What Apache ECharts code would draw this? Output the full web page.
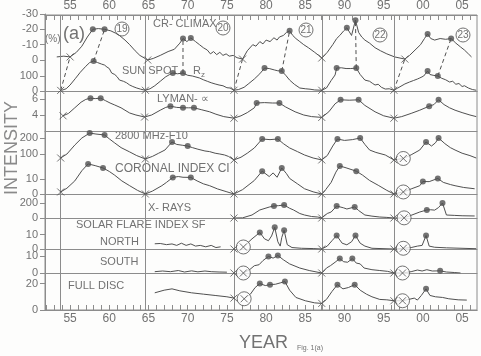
<!DOCTYPE html>
<html>
<head>
<meta charset="utf-8">
<script src="https://cdn.jsdelivr.net/npm/echarts@6/dist/echarts.min.js"></script>
<style>html,body{margin:0;padding:0;background:#fdfdfc}#main{width:481px;height:356px}</style>
</head>
<body>
<div id="main"></div>
<script>
// years as full numbers, axis labels show the last two digits
var yearTicks = [];
for (var y = 1952; y <= 2006; y++) yearTicks.push(y);
var yearLabels = [1955, 1960, 1965, 1970, 1975, 1980, 1985, 1990, 1995, 2000, 2005];
var cycleMin = [1953.8, 1964.6, 1975.9, 1987.1, 1996.3];

var crClimax = [[1953.3,-2],[1954.2,-2.5],[1955.0,-2],[1955.8,-5],[1956.5,-9],[1957.2,-15],[1957.9,-20],[1958.6,-20.5],[1959.4,-20],[1960.2,-19],[1960.8,-17.5],[1961.3,-16],[1962.0,-13],[1962.6,-10],[1963.3,-6],[1963.9,-3],[1964.9,0],[1965.6,-1],[1966.5,-3],[1967.5,-5.5],[1968.3,-7],[1969.0,-11],[1969.4,-14],[1969.9,-12],[1970.4,-14.4],[1971.0,-12],[1971.5,-10],[1972.0,-8],[1972.5,-6.5],[1972.9,-4],[1973.3,-5.5],[1973.7,-3.5],[1974.1,-5],[1974.5,-3],[1974.9,-4],[1975.3,-2.5],[1975.8,-3],[1976.3,-1.5],[1977.0,-0.6],[1977.6,-6],[1978.3,-10],[1978.7,-9],[1979.2,-12],[1979.6,-10.5],[1980.0,-13],[1980.5,-12],[1981.0,-14.5],[1981.4,-13],[1981.7,-15],[1982.2,-16],[1982.6,-18],[1983.0,-19],[1983.4,-16],[1983.8,-14],[1984.3,-12],[1984.8,-10],[1985.4,-8],[1986.2,-5],[1986.7,-3],[1987.1,-1.3],[1987.8,-5],[1988.5,-10],[1989.0,-14],[1989.4,-16],[1989.9,-19],[1990.3,-21],[1990.9,-16],[1991.4,-26],[1991.8,-18],[1992.2,-15],[1992.6,-13],[1993.2,-11],[1993.9,-8],[1994.6,-6],[1995.4,-4],[1996.4,-2],[1997.7,-0.6],[1998.3,-3],[1999.0,-6.5],[1999.7,-10],[2000.2,-14],[2000.6,-17],[2001.0,-14],[2001.5,-13],[2002.2,-14],[2002.9,-13.5],[2003.6,-14],[2004.2,-11],[2004.8,-8.5],[2005.3,-6.5],[2005.8,-4],[2006.2,-2]];
var crDots = [[1957.9,-20],[1959.4,-20],[1969.4,-14],[1970.4,-14.4],[1983.0,-19],[1990.3,-21],[1991.4,-26],[2000.6,-17],[2003.6,-14]];
var crMins = [[1955.0,-2],[1964.9,0],[1977.0,-0.6],[1987.1,-1.3],[1997.7,-0.6]];

var sunspot = [[1953.9,4],[1954.5,15],[1955.0,40],[1955.7,85],[1956.3,125],[1957.0,165],[1957.5,190],[1958.0,200],[1958.5,190],[1959.0,180],[1959.4,173],[1959.7,160],[1960.0,150],[1960.3,120],[1960.7,110],[1961.0,95],[1961.3,73],[1961.8,65],[1962.2,55],[1962.6,40],[1963.0,30],[1963.5,20],[1964.0,12],[1964.6,5],[1965.2,15],[1965.8,35],[1966.5,65],[1967.2,95],[1967.7,110],[1968.1,120],[1968.7,115],[1969.4,120],[1970.0,105],[1970.6,100],[1971.5,87],[1972.0,75],[1972.5,65],[1973.0,55],[1973.5,47],[1974.0,40],[1974.5,35],[1975.0,22],[1975.4,20],[1975.9,5],[1976.5,10],[1977.2,25],[1977.8,50],[1978.5,80],[1979.2,115],[1979.8,153],[1980.4,150],[1981.1,140],[1981.5,135],[1982.0,133],[1982.5,105],[1983.0,73],[1983.6,45],[1984.3,20],[1985.0,15],[1985.6,12],[1986.2,7],[1987.1,5],[1987.7,20],[1988.3,70],[1988.8,107],[1989.0,153],[1989.6,155],[1990.2,150],[1990.8,150],[1991.5,153],[1992.0,110],[1992.6,73],[1993.2,65],[1993.6,50],[1993.9,40],[1994.3,45],[1994.7,25],[1995.2,13],[1995.7,15],[1996.3,5],[1996.8,20],[1997.7,47],[1998.3,60],[1998.8,70],[1999.3,80],[1999.6,87],[2000.1,100],[2000.6,133],[2000.9,110],[2001.3,105],[2001.9,100],[2002.4,85],[2002.9,75],[2003.4,60],[2003.8,65],[2004.2,45],[2004.6,50],[2005.0,30],[2005.3,35],[2005.8,20],[2006.3,10],[2006.8,5]];
var sunDots = [[1958.0,200],[1968.1,120],[1969.4,120],[1979.8,153],[1982.0,133],[1989.0,153],[1991.5,153],[2000.6,133],[2001.9,100]];
var sunMins = [[1953.8,4],[1964.6,5],[1975.9,5],[1987.1,5],[1996.3,5]];

var lyman = [[1954.1,3.9],[1954.8,4.2],[1955.6,4.9],[1956.4,5.6],[1957.0,5.95],[1957.6,6.1],[1958.2,6.05],[1958.9,6.1],[1959.5,5.8],[1960.1,5.5],[1960.7,5.25],[1961.5,4.9],[1962.0,4.6],[1962.6,4.25],[1963.4,4.0],[1964.5,3.75],[1965.4,4.0],[1966.5,4.6],[1967.2,4.95],[1967.8,5.1],[1968.6,4.95],[1969.4,4.9],[1970.1,4.9],[1970.8,4.9],[1971.8,4.65],[1972.8,4.4],[1973.6,4.1],[1974.6,3.8],[1975.9,3.6],[1976.8,3.9],[1977.6,4.3],[1978.5,4.9],[1978.8,5.5],[1979.8,5.55],[1980.8,5.5],[1981.7,5.5],[1982.5,5.0],[1983.7,4.4],[1984.8,4.0],[1985.8,3.8],[1987.1,3.7],[1988.0,4.4],[1988.8,5.4],[1989.5,5.9],[1990.6,5.85],[1991.8,5.9],[1992.6,5.2],[1993.9,4.4],[1995.0,3.9],[1996.3,3.6],[1997.3,3.8],[1998.5,4.2],[1999.6,4.6],[2000.8,5.1],[2001.4,5.3],[2002.0,5.9],[2002.7,5.3],[2003.4,4.9],[2004.1,4.6],[2005.0,4.3],[2006.0,4.0],[2006.8,3.8]];
var lymanDots = [[1957.6,6.1],[1958.9,6.1],[1967.8,5.1],[1969.4,4.9],[1970.8,4.9],[1978.8,5.5],[1981.7,5.5],[1989.5,5.9],[1991.8,5.9],[2000.8,5.1],[2002.0,5.9]];
var lymanMins = [[1954.1,3.9],[1964.5,3.75],[1975.9,3.6],[1987.1,3.7],[1996.3,3.6]];

var f10 = [[1953.8,75],[1954.6,100],[1955.6,156],[1956.5,200],[1957.5,231],[1958.3,225],[1959.4,219],[1960.0,195],[1960.7,169],[1961.5,140],[1962.6,113],[1963.5,90],[1964.6,69],[1965.5,85],[1966.3,105],[1967.1,125],[1968.0,175],[1968.6,160],[1969.3,155],[1970.0,150],[1970.6,140],[1971.3,130],[1972.2,119],[1972.8,115],[1973.5,105],[1974.1,100],[1974.7,94],[1975.2,85],[1975.9,63],[1976.8,80],[1977.6,105],[1978.5,138],[1979.5,194],[1980.5,190],[1981.5,194],[1982.2,165],[1983.0,138],[1984.0,115],[1984.9,94],[1986.0,75],[1987.1,63],[1987.8,90],[1988.5,150],[1989.1,194],[1990.0,185],[1991.0,190],[1992.0,200],[1992.6,160],[1993.2,125],[1994.0,110],[1995.2,94],[1996.3,63],[1997.5,72],[1998.5,95],[1999.6,125],[2000.4,175],[2001.1,150],[2001.6,170],[2002.0,200],[2002.8,165],[2003.5,140],[2004.1,125],[2005.0,105],[2006.0,90],[2006.8,75]];
var f10Dots = [[1957.5,231],[1959.4,219],[1968.0,175],[1970.0,150],[1979.5,194],[1981.5,194],[1989.1,194],[1992.0,200],[2000.4,175],[2002.0,200]];
var f10Mins = [[1953.8,75],[1964.6,69],[1975.9,63],[1987.1,63],[1996.3,63]];
var f10Circ = [[1997.5,72]];

var coronal = [[1953.8,1.4],[1954.6,4],[1955.6,9],[1956.5,16],[1957.3,20.7],[1958.2,19.5],[1959.2,17.9],[1960.0,15.5],[1960.7,12.9],[1961.6,9],[1962.6,5.7],[1963.6,2.5],[1964.6,0],[1965.5,2],[1966.7,5.7],[1967.3,8],[1968.1,11.4],[1968.8,12],[1969.4,11.5],[1970.4,11.4],[1971.2,9],[1972.0,7],[1972.8,5.7],[1973.8,3.5],[1975.0,1.5],[1975.9,0],[1977.0,3],[1978.5,9.3],[1979.5,15.7],[1980.4,12],[1980.9,14.5],[1981.4,11.5],[1982.0,17.9],[1982.6,14],[1983.0,10.7],[1984.0,7],[1984.9,3.6],[1986.0,1.5],[1987.1,0],[1987.6,3],[1988.3,8],[1988.9,15],[1989.4,19.3],[1990.2,18],[1991.5,15.7],[1992.3,13],[1993.2,9.3],[1994.3,6],[1995.4,2.5],[1996.3,0],[1997.5,1.4],[1998.5,3.5],[1999.6,5.7],[2000.0,8.6],[2000.8,8.5],[2001.9,10.7],[2002.6,8],[2003.5,6.5],[2004.1,5.7],[2005.2,4.5],[2006.6,3.6]];
var coronalDots = [[1957.3,20.7],[1959.2,17.9],[1968.1,11.4],[1970.4,11.4],[1979.5,15.7],[1982.0,17.9],[1989.4,19.3],[1991.5,15.7],[2000.0,8.6],[2001.9,10.7]];
var coronalMins = [[1953.8,1.4],[1964.6,0],[1975.9,0],[1987.1,0],[1996.3,0]];
var coronalCirc = [[1997.5,1.4]];

var xrays = [[1975.9,0],[1977.0,2],[1978.2,40],[1979.2,107],[1980.4,146],[1981.0,160],[1981.6,165],[1982.3,173],[1983.0,130],[1983.5,107],[1984.3,60],[1984.9,40],[1985.8,20],[1986.6,13],[1987.1,0],[1987.8,60],[1988.3,80],[1989.0,160],[1989.9,135],[1990.3,120],[1991.3,147],[1991.8,100],[1992.6,40],[1993.5,25],[1994.5,13],[1995.4,8],[1996.3,0],[1997.6,2],[1998.6,40],[1999.6,80],[2000.5,107],[2001.0,110],[2001.5,105],[2002.0,140],[2002.5,200],[2003.0,40],[2004.0,35],[2005.0,30],[2006.6,27]];
var xrayDots = [[1981.0,160],[1982.3,173],[1989.0,160],[1991.3,147],[2000.5,107],[2002.5,200]];
var xrayMins = [[1975.9,0],[1987.1,0],[1996.3,0]];
var xrayCirc = [[1997.6,2]];

var northEarly = [[1965.8,3.6],[1966.5,3.8],[1967.3,3],[1968.0,3.5],[1968.6,2.5],[1969.2,4],[1969.8,2.5],[1970.4,3.5],[1971.0,2],[1971.6,2.5],[1972.3,1.5],[1973.0,2.5],[1973.6,1],[1974.2,1.5]];
var north = [[1977.1,1.4],[1978.2,7],[1979.2,11.4],[1979.8,7],[1980.3,5.7],[1980.7,9],[1981.1,15],[1981.5,5],[1981.8,2],[1982.0,8],[1982.3,12.9],[1982.7,3],[1983.3,1],[1984.5,0.5],[1986.0,0.3],[1987.1,0],[1987.8,2],[1988.4,5.7],[1989.0,9.3],[1989.7,4],[1990.3,2.9],[1990.9,5],[1991.4,9.3],[1992.0,4],[1992.6,2],[1993.5,0.5],[1996.3,0],[1997.5,0.5],[1998.5,1],[1999.3,2],[1999.9,2.5],[2000.4,9.3],[2000.8,2],[2001.5,1.2],[2003.0,0.8],[2006.8,0.2]];
var northDots = [[1979.2,11.4],[1981.1,15],[1982.3,12.9],[1989.0,9.3],[1991.4,9.3],[2000.4,9.3]];
var northMins = [[1975.9,0],[1987.1,0],[1996.3,0]];
var northCirc = [[1977.1,1.4],[1997.5,0.5]];

var southEarly = [[1965.8,0.8],[1966.8,1.2],[1967.8,0.8],[1968.8,1.5],[1969.6,0.6],[1970.5,1.3],[1971.3,0.7],[1972.2,1.2],[1973.0,0.8],[1974.0,0.6],[1975.0,0.5]];
var south = [[1977.1,0],[1977.9,2],[1978.5,4.4],[1979.1,5],[1979.6,7.5],[1980.3,10],[1980.9,9],[1981.5,10.6],[1982.2,8],[1983.0,5.5],[1984.3,3],[1985.5,1.5],[1987.1,0],[1987.7,3],[1988.2,4.4],[1988.8,6.5],[1989.4,8.75],[1989.9,6.8],[1990.4,6.5],[1991.0,8.75],[1991.5,6],[1992.0,5.5],[1992.5,3],[1993.5,2],[1994.5,1.5],[1995.5,1],[1996.3,0],[1997.4,0],[1998.5,0.8],[1999.3,1.8],[1999.9,1.2],[2000.5,2],[2001.2,1.2],[2002.2,1.3],[2003.0,0.6],[2004.0,0.3],[2004.8,0]];
var southDots = [[1980.3,10],[1981.5,10.6],[1989.4,8.75],[1991.0,8.75],[2002.2,1.3]];
var southMins = [[1975.9,0],[1987.1,0],[1996.3,0]];
var southCirc = [[1977.1,0],[1997.4,0]];

var fullEarly = [[1965.8,13],[1967.0,15],[1968.0,16],[1969.0,14.5],[1970.5,13],[1972.0,12],[1973.5,11],[1975.0,10],[1975.9,9]];
var full = [[1977.2,8.5],[1978.0,12],[1978.6,17],[1979.2,20],[1979.9,18.5],[1980.5,19.2],[1981.2,19.5],[1981.8,20.5],[1982.4,21.5],[1983.0,15],[1983.8,9.5],[1985.0,7],[1986.2,5.4],[1987.1,5],[1987.7,8],[1988.4,14],[1989.1,19.2],[1989.8,16],[1990.5,17],[1991.3,19.2],[1992.0,15],[1992.8,12],[1993.5,10],[1994.5,8],[1995.4,7.7],[1996.3,7],[1997.4,7],[1998.2,8],[1998.9,9],[1999.3,7.5],[1999.8,11],[2000.4,16],[2000.9,11],[2001.6,10],[2002.5,9.5],[2003.3,8.5],[2004.5,7.7],[2005.6,7.5]];
var fullDots = [[1979.2,20],[1980.5,19.2],[1982.4,21.5],[1989.1,19.2],[1991.3,19.2],[2000.4,16]];
var fullMins = [[1975.9,9],[1987.1,5],[1996.3,7]];
var fullCirc = [[1977.2,8.5],[1997.4,7]];

// dashed links between the two top panels: [panelA, x, y, panelB, x, y]
var links = [
  [1, 1953.8, 4, 0, 1955.0, -2], [1, 1958.0, 200, 0, 1959.4, -20],
  [1, 1969.4, 120, 0, 1969.4, -14], [1, 1975.9, 5, 0, 1977.0, -0.6],
  [1, 1982.0, 133, 0, 1983.0, -19], [1, 1991.5, 153, 0, 1991.4, -26],
  [1, 1996.3, 5, 0, 1997.7, -0.6], [1, 2001.9, 100, 0, 2003.6, -14]
];

var X0 = 1951.8, X1 = 2006.9;
var ink = '#505050', rule = '#8c8c8c', txt = '#727272', paper = '#fdfdfc';
var xPath = 'path://M0,0L10,10M10,0L0,10';

var panels = [
  {top: 14, h: 46, min: -30, max: 0, inv: true, ticks: [-30, -20, -10, 0], lines: [crClimax], dots: crDots, mins: crMins, circ: []},
  {top: 60, h: 31, min: 0, max: 207, ticks: [100, 0], lines: [sunspot], dots: sunDots, mins: sunMins, circ: []},
  {top: 91, h: 40, min: 2, max: 7, ticks: [6, 4], lines: [lyman], dots: lymanDots, mins: lymanMins, circ: []},
  {top: 131, h: 31, min: 50, max: 244, ticks: [200, 100], lines: [f10], dots: f10Dots, mins: f10Mins, circ: f10Circ},
  {top: 162, h: 32, min: 0, max: 22, ticks: [10, 0], lines: [coronal], dots: coronalDots, mins: coronalMins, circ: coronalCirc},
  {top: 194, h: 24, min: 0, max: 320, ticks: [200, 0], lines: [xrays], dots: xrayDots, mins: xrayMins, circ: xrayCirc},
  {top: 218, h: 31, min: 0, max: 21.4, ticks: [10, 0], lines: [northEarly, north], dots: northDots, mins: northMins, circ: northCirc},
  {top: 249, h: 24, min: 0, max: 14.5, ticks: [10, 0], lines: [southEarly, south], dots: southDots, mins: southMins, circ: southCirc},
  {top: 273, h: 37, min: 0, max: 28, ticks: [20, 0], lines: [fullEarly, full], dots: fullDots, mins: fullMins, circ: fullCirc}
];

var myChart = echarts.init(document.getElementById('main'));
var grid = [], xAxis = [], yAxis = [], series = [];
var labelFont = {color: txt, fontSize: 11, fontFamily: 'Liberation Sans'};

panels.forEach(function (p, i) {
  grid.push({left: 45, right: 4, top: p.top, height: p.h});
  xAxis.push({
    gridIndex: i, type: 'value', min: X0, max: X1, position: 'top',
    axisLine: {show: i > 0, lineStyle: {color: rule, width: 1}},
    axisTick: {show: false}, axisLabel: {show: false}, splitLine: {show: false}
  });
  yAxis.push({
    gridIndex: i, type: 'value', min: p.min, max: p.max, inverse: !!p.inv,
    axisLine: {show: true, lineStyle: {color: rule, width: 1}},
    axisTick: {show: true, length: 5, customValues: p.ticks, lineStyle: {color: rule}},
    axisLabel: Object.assign({customValues: p.ticks, margin: 7}, labelFont),
    splitLine: {show: false}
  });
  p.lines.forEach(function (d) {
    series.push({type: 'line', xAxisIndex: i, yAxisIndex: i, data: d, symbol: 'none',
      lineStyle: {color: ink, width: 1}, z: 3});
  });
  series.push({type: 'scatter', xAxisIndex: i, yAxisIndex: i, data: p.dots, symbolSize: 6,
    itemStyle: {color: ink}, z: 4});
  if (p.circ.length) {
    series.push({type: 'scatter', xAxisIndex: i, yAxisIndex: i, data: p.circ, symbol: 'circle',
      symbolSize: 14, itemStyle: {color: paper, borderColor: ink, borderWidth: 1}, z: 4});
  }
  series.push({type: 'scatter', xAxisIndex: i, yAxisIndex: i, data: p.mins.concat(p.circ), symbol: xPath,
    symbolSize: 7, itemStyle: {color: 'none', borderColor: ink, borderWidth: 1}, z: 5});
});

// frame, year axes and cycle-minimum lines
grid.push({left: 45, right: 4, top: 14, height: 296, show: true, borderColor: rule, borderWidth: 1,
  backgroundColor: 'transparent'});
['bottom', 'top'].forEach(function (pos) {
  xAxis.push({
    gridIndex: 9, type: 'value', min: X0, max: X1, position: pos,
    axisLine: {show: true, lineStyle: {color: rule}},
    axisTick: {show: true, inside: true, length: 5, customValues: yearTicks, lineStyle: {color: rule}},
    axisLabel: Object.assign({customValues: yearLabels, margin: 3, fontSize: 12,
      formatter: function (v) { var s = String(Math.round(v) % 100); return s.length < 2 ? '0' + s : s; }},
      {color: txt, fontFamily: 'Liberation Sans'}),
    splitLine: {show: false}
  });
});
yAxis.push({gridIndex: 9, type: 'value', min: 0, max: 1, show: false});
series.push({
  type: 'line', xAxisIndex: 9, yAxisIndex: 9, data: [[X0, -1]], symbol: 'none', lineStyle: {opacity: 0},
  markLine: {silent: true, symbol: ['none', 'none'], label: {show: false}, animation: false,
    lineStyle: {type: 'solid', color: rule, width: 1},
    data: cycleMin.map(function (v) { return {xAxis: v}; })}
});

option = {
  animation: false,
  backgroundColor: paper,
  grid: grid, xAxis: xAxis, yAxis: yAxis, series: series
};
myChart.setOption(option);

// texts
var g = [];
function label(s, x, y, size, extra) {
  g.push(Object.assign({type: 'text', x: x, y: y, silent: true,
    style: {text: s, fill: txt, fontSize: size, fontFamily: 'Liberation Sans', textAlign: 'left', textVerticalAlign: 'middle'}}, extra || {}));
}
label('(a)', 63, 34, 18);
label('(%)', 45, 39, 10);
label('CR- CLIMAX', 153, 24, 11);
label('SUN SPOT', 122, 71, 11);
label('R', 193, 71, 11);
label('z', 201, 75, 8);
label('LYMAN- \u221d', 157, 99, 11);
label('2800 MHz-F10', 115, 136, 11);
label('CORONAL INDEX CI', 115, 169, 12);
label('X- RAYS', 148, 208, 11);
label('SOLAR FLARE INDEX SF', 76, 225, 11);
label('NORTH', 100, 242, 11);
label('SOUTH', 100, 262, 11);
label('FULL DISC', 68, 286, 11);
label('YEAR', 239, 343, 18);
label('Fig. 1(a)', 297, 348, 7);
label('INTENSITY', 12, 148, 18, {rotation: Math.PI / 2});
g[g.length - 1].style.textAlign = 'center';
g[g.length - 1].style.fill = '#8a8a8a';
[[19, 122, 29], [20, 223, 28], [21, 306, 30], [22, 380, 35], [23, 463, 35]].forEach(function (c) {
  g.push({type: 'circle', shape: {cx: c[1], cy: c[2], r: 7}, silent: true,
    style: {fill: 'none', stroke: txt, lineWidth: 1}});
  g.push({type: 'text', x: c[1], y: c[2], silent: true,
    style: {text: String(c[0]), fill: txt, fontSize: 10, fontFamily: 'Liberation Sans', textAlign: 'center', textVerticalAlign: 'middle'}});
});
links.forEach(function (l) {
  var a = myChart.convertToPixel({gridIndex: l[0]}, [l[1], l[2]]);
  var b = myChart.convertToPixel({gridIndex: l[3]}, [l[4], l[5]]);
  g.push({type: 'line', silent: true, shape: {x1: a[0], y1: a[1], x2: b[0], y2: b[1]},
    style: {stroke: ink, lineWidth: 1, lineDash: [4, 3]}});
});
myChart.setOption({graphic: g});
</script>
</body>
</html>
